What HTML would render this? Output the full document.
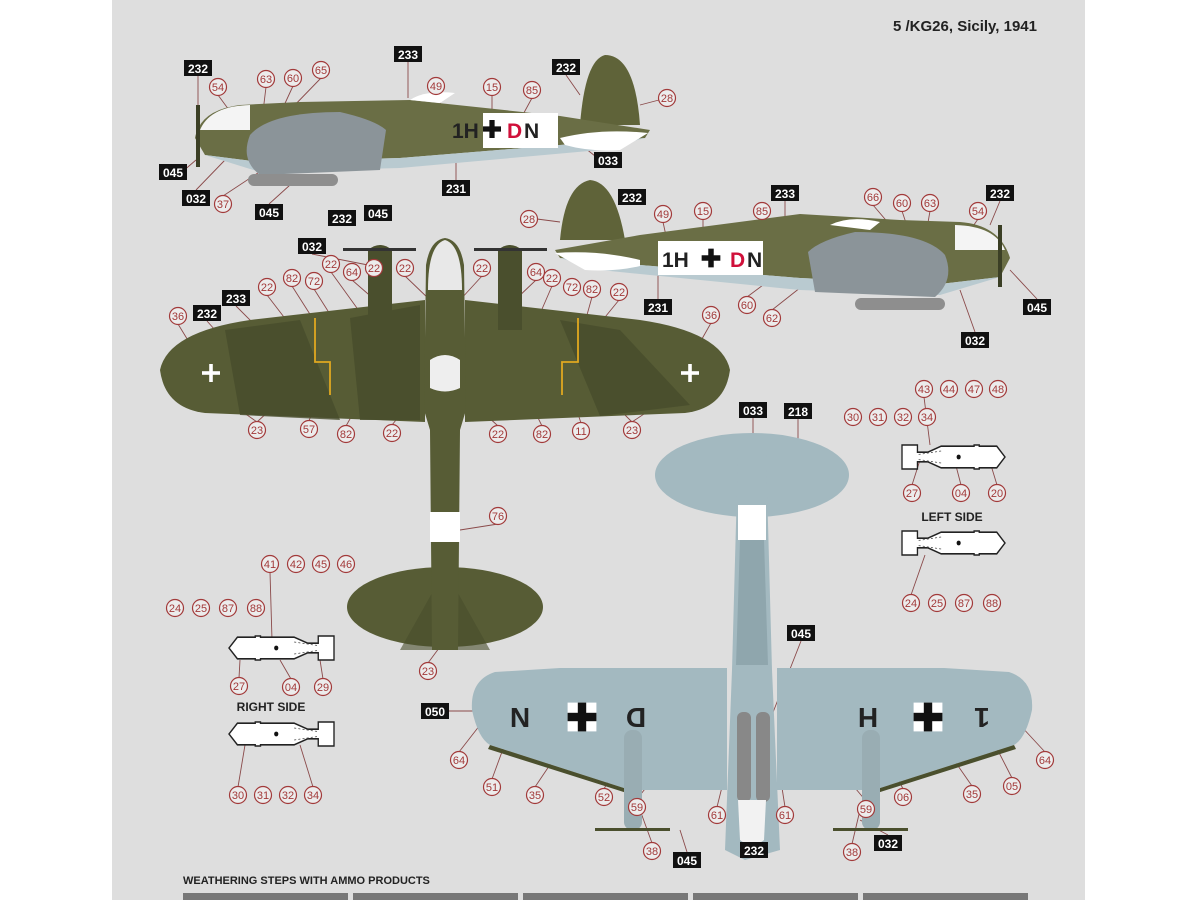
<!DOCTYPE html>
<html><head><meta charset="utf-8"><style>
html,body{margin:0;padding:0;background:#fff}
svg{display:block}
.c circle{fill:#ececec;stroke:#a23a3a;stroke-width:1.2}
.c text{fill:#a23a3a;font:11px "Liberation Sans",sans-serif;text-anchor:middle}
.b rect{fill:#111}
.bt{fill:#fff;font:bold 12px "Liberation Sans",sans-serif;text-anchor:middle}
.ln path{stroke:#8a4a4a;stroke-width:0.9;fill:none}
</style></head><body>
<svg width="1200" height="900" viewBox="0 0 1200 900" xmlns="http://www.w3.org/2000/svg">
<defs>
<g id="bk"><rect x="-12" y="-12" width="24" height="24" fill="#fff"/><rect x="-3.5" y="-12" width="7" height="24" fill="#111"/><rect x="-12" y="-3.5" width="24" height="7" fill="#111"/></g>
<g id="bomb"><path d="M0,10 L8,1 L25,1 L25,0 L30,0 L30,1 L62,1 L75,6 L85,6 L85,0 L100,0 L100,20 L85,20 L85,14 L75,14 L62,19 L30,19 L30,20 L25,20 L25,19 L8,19 Z" fill="#fff" stroke="#222" stroke-width="1.3"/><circle cx="45" cy="10" r="2" fill="#111"/><path d="M62,5 L85,8 M62,15 L85,12" stroke="#555" stroke-width="0.7" stroke-dasharray="2 2"/></g>
</defs>
<rect x="0" y="0" width="1200" height="900" fill="#fff"/>
<rect x="112" y="0" width="973" height="900" fill="#dedede"/>
<text x="965" y="31" font-family="Liberation Sans,sans-serif" font-weight="bold" font-size="15" fill="#222" text-anchor="middle">5 /KG26, Sicily, 1941</text>

<!-- leader lines -->
<g class="ln">
<path d="M218,95 L240,125 M266,87 L262,120 M293,86 L275,125 M321,78 L290,110 M436,94 L450,125 M492,95 L492,115 M532,98 L520,120 M659,100 L640,105 M223,196 L270,165 M198,76 L198,105 M408,62 L408,98 M566,75 L580,95 M600,160 L585,148 M182,172 L196,160 M196,190 L225,160 M269,204 L290,185 M456,180 L456,160"/>
<path d="M537,219 L560,222 M663,222 L668,245 M703,219 L703,245 M762,219 L740,250 M785,201 L785,218 M873,205 L890,225 M902,211 L910,235 M930,211 L925,240 M978,219 L960,245 M1000,201 L990,225 M747,297 L790,265 M772,310 L810,280 M658,299 L658,275 M1037,299 L1010,270 M975,332 L960,290"/>
<path d="M267,295 L340,390 M292,286 L320,330 M314,289 L340,330 M331,272 L380,340 M352,280 L375,300 M405,276 L430,300 M482,276 L460,300 M536,280 L515,300 M552,286 L520,360 M592,297 L580,340 M619,300 L570,360 M178,324 L200,360 M711,323 L690,360 M257,422 L240,410 M257,422 L270,410 M309,421 L320,390 M346,426 L400,330 M392,425 L420,390 M498,426 L470,400 M542,426 L500,340 M581,423 L570,390 M632,422 L620,410 M632,422 L650,410 M498,524 L460,530 M428,663 L445,640 M236,306 L260,330 M207,321 L215,330 M312,254 L368,265"/>
<path d="M270,572 L272,640 M239,678 L240,660 M291,679 L280,660 M323,679 L320,660 M238,787 L245,745 M313,787 L300,745 M924,397 L930,445 M912,485 L920,460 M961,485 L955,462 M997,485 L990,462 M911,595 L925,555"/>
<path d="M459,752 L480,725 M492,779 L510,730 M535,787 L570,735 M604,789 L630,740 M637,799 L660,770 M717,807 L725,775 M652,843 L640,810 M903,789 L880,740 M972,786 L940,740 M1012,778 L990,735 M1045,752 L1020,725 M866,801 L840,770 M785,807 L780,775 M852,844 L860,810 M753,418 L753,440 M798,419 L798,470 M801,641 L770,720 M449,711 L475,711 M888,835 L860,820 M687,852 L680,830"/>
</g>

<!-- side view 1 -->
<path d="M580,125 Q585,60 605,55 Q635,55 640,125 Z" fill="#5f6339"/>
<path d="M195,138 Q200,110 240,105 L300,102 L410,100 L560,116 L650,130 L645,138 L560,145 L400,158 L260,162 L205,155 Z" fill="#6a6e45"/>
<path d="M205,155 L260,162 L400,158 L560,145 L645,138 L600,150 L400,168 L260,172 Z" fill="#b9cad0"/>
<path d="M560,138 Q600,128 648,133 L620,150 Q590,152 565,145Z" fill="#fff"/>
<path d="M250,135 Q270,112 340,112 Q375,120 386,130 L380,170 L260,175 Q240,160 250,135Z" fill="#8b9499"/>
<rect x="248" y="174" width="90" height="12" rx="6" fill="#8e8e8e"/>
<path d="M410,100 Q425,90 455,93 L440,103Z" fill="#fff"/>
<path d="M200,130 Q210,106 250,105 L250,130Z" fill="#f4f4f4"/>
<rect x="196" y="105" width="4" height="62" fill="#3b3f25"/>
<rect x="483" y="113" width="75" height="35" fill="#fff"/>
<g transform="translate(492,129) scale(0.75)"><use href="#bk"/></g>
<text x="452" y="138" font-family="Liberation Sans,sans-serif" font-weight="bold" font-size="21" fill="#222">1H</text>
<text x="507" y="138" font-family="Liberation Sans,sans-serif" font-weight="bold" font-size="21" fill="#d0103a">D</text>
<text x="524" y="138" font-family="Liberation Sans,sans-serif" font-weight="bold" font-size="21" fill="#222">N</text>

<!-- side view 2 (mirrored) -->
<path d="M560,240 Q565,185 590,180 Q615,182 625,240 Z" fill="#5f6339"/>
<path d="M1010,258 Q1000,225 960,222 L900,220 L800,214 L640,235 L555,250 L560,258 L640,265 L800,278 L940,284 L1000,277 Z" fill="#6a6e45"/>
<path d="M1000,277 L940,284 L800,278 L640,265 L560,258 L600,270 L800,290 L940,295 Z" fill="#b9cad0"/>
<path d="M640,260 Q600,250 555,253 L585,270 Q615,272 640,266Z" fill="#fff"/>
<path d="M945,255 Q925,232 855,232 Q820,240 808,252 L815,292 L935,297 Q955,280 945,255Z" fill="#8b9499"/>
<rect x="855" y="298" width="90" height="12" rx="6" fill="#8e8e8e"/>
<path d="M830,225 Q850,215 880,222 L870,230Z" fill="#fff"/>
<path d="M1005,250 Q995,226 955,225 L955,250Z" fill="#f4f4f4"/>
<rect x="998" y="225" width="4" height="62" fill="#3b3f25"/>
<rect x="658" y="241" width="105" height="34" fill="#fff"/>
<g transform="translate(711,258) scale(0.78)"><use href="#bk"/></g>
<text x="662" y="267" font-family="Liberation Sans,sans-serif" font-weight="bold" font-size="21" fill="#222">1H</text>
<text x="730" y="267" font-family="Liberation Sans,sans-serif" font-weight="bold" font-size="21" fill="#d0103a">D</text>
<text x="747" y="267" font-family="Liberation Sans,sans-serif" font-weight="bold" font-size="21" fill="#222">N</text>

<!-- top view -->
<path d="M425,300 L250,320 Q168,332 160,370 Q165,408 205,413 L425,422 Z" fill="#575c35"/>
<path d="M465,300 L640,320 Q722,332 730,370 Q725,408 685,413 L465,422 Z" fill="#575c35"/>
<path d="M225,330 L300,320 L340,420 L240,415 Z M560,320 L620,330 L690,405 L600,416 Z M350,318 L420,305 L420,420 L360,420Z" fill="#474c2c" opacity="0.8"/>
<ellipse cx="445" cy="607" rx="98" ry="40" fill="#575c35"/>
<path d="M445,570 L400,650 L490,650Z" fill="#474c2c" opacity="0.6"/>
<path d="M426,265 Q430,240 445,238 Q460,240 464,265 L466,410 L460,430 L458,650 L432,650 L430,430 L424,410Z" fill="#575c35"/>
<path d="M428,290 Q428,245 445,240 Q462,245 462,290Z" fill="#e8e8e8"/>
<path d="M430,360 Q445,350 460,360 L460,388 Q445,395 430,388Z" fill="#eee"/>
<rect x="430" y="512" width="30" height="30" fill="#fff"/>
<path d="M368,250 Q380,240 392,250 L392,330 L368,330Z" fill="#4a4f2d"/>
<path d="M498,250 Q510,240 522,250 L522,330 L498,330Z" fill="#4a4f2d"/>
<rect x="343" y="248" width="73" height="3" fill="#333"/>
<rect x="474" y="248" width="73" height="3" fill="#333"/>
<path d="M315,318 L315,362 L330,362 L330,395 M578,318 L578,362 L562,362 L562,395" stroke="#e0a820" stroke-width="1.8" fill="none"/>
<g transform="translate(211,373) scale(0.6)"><rect x="-3" y="-15" width="6" height="30" fill="#fff"/><rect x="-15" y="-3" width="30" height="6" fill="#fff"/></g>
<g transform="translate(690,373) scale(0.6)"><rect x="-3" y="-15" width="6" height="30" fill="#fff"/><rect x="-15" y="-3" width="30" height="6" fill="#fff"/></g>

<!-- bottom view -->
<ellipse cx="752" cy="475" rx="97" ry="42" fill="#a3b9c0"/>
<path d="M738,450 L766,450 L772,670 L780,850 L745,860 L725,850 L732,670Z" fill="#a3b9c0"/>
<path d="M738,505 L766,505 L766,540 L738,540Z" fill="#fff"/>
<path d="M740,540 L764,540 L768,665 L736,665Z" fill="#8fa6ad"/>
<path d="M727,668 L560,668 L495,672 Q470,680 472,710 Q478,738 490,745 L630,790 L727,790Z" fill="#a3b9c0"/>
<path d="M777,668 L944,668 L1009,672 Q1034,680 1032,710 Q1026,738 1014,745 L874,790 L777,790Z" fill="#a3b9c0"/>
<path d="M490,745 L630,790 L630,794 L488,749Z M1014,745 L874,790 L874,794 L1016,749Z" fill="#4a4f2d"/>
<rect x="737" y="712" width="14" height="90" rx="6" fill="#888"/>
<rect x="756" y="712" width="14" height="90" rx="6" fill="#888"/>
<rect x="624" y="730" width="18" height="100" rx="8" fill="#99adb3"/>
<rect x="862" y="730" width="18" height="100" rx="8" fill="#99adb3"/>
<rect x="595" y="828" width="75" height="3" fill="#4a4f2d"/>
<rect x="833" y="828" width="75" height="3" fill="#4a4f2d"/>
<path d="M738,800 L766,800 L764,840 Q752,850 740,840Z" fill="#f2f2f2"/>
<g transform="translate(582,717)"><use href="#bk" transform="scale(1.2)"/></g>
<g transform="translate(928,717)"><use href="#bk" transform="scale(1.2)"/></g>
<text x="520" y="728" font-family="Liberation Sans,sans-serif" font-weight="bold" font-size="28" fill="#222" text-anchor="middle" transform="rotate(180 520 718)">N</text>
<text x="636" y="728" font-family="Liberation Sans,sans-serif" font-weight="bold" font-size="28" fill="#222" text-anchor="middle" transform="rotate(180 636 718)">D</text>
<text x="868" y="728" font-family="Liberation Sans,sans-serif" font-weight="bold" font-size="28" fill="#222" text-anchor="middle" transform="rotate(180 868 718)">H</text>
<text x="982" y="728" font-family="Liberation Sans,sans-serif" font-weight="bold" font-size="28" fill="#222" text-anchor="middle" transform="rotate(180 982 718)">1</text>

<!-- bombs -->
<use href="#bomb" transform="translate(229,636) scale(1.05,1.2)"/>
<use href="#bomb" transform="translate(229,722) scale(1.05,1.2)"/>
<use href="#bomb" transform="translate(1005,445) scale(-1.03,1.2)"/>
<use href="#bomb" transform="translate(1005,531) scale(-1.03,1.2)"/>
<text x="271" y="711" font-family="Liberation Sans,sans-serif" font-weight="bold" font-size="12" fill="#222" text-anchor="middle">RIGHT SIDE</text>
<text x="952" y="521" font-family="Liberation Sans,sans-serif" font-weight="bold" font-size="12" fill="#222" text-anchor="middle">LEFT SIDE</text>

<!-- number circles -->
<g class="c">
<g transform="translate(218,87)"><circle r="8.5"/><text y="4">54</text></g>
<g transform="translate(266,79)"><circle r="8.5"/><text y="4">63</text></g>
<g transform="translate(293,78)"><circle r="8.5"/><text y="4">60</text></g>
<g transform="translate(321,70)"><circle r="8.5"/><text y="4">65</text></g>
<g transform="translate(436,86)"><circle r="8.5"/><text y="4">49</text></g>
<g transform="translate(492,87)"><circle r="8.5"/><text y="4">15</text></g>
<g transform="translate(532,90)"><circle r="8.5"/><text y="4">85</text></g>
<g transform="translate(667,98)"><circle r="8.5"/><text y="4">28</text></g>
<g transform="translate(223,204)"><circle r="8.5"/><text y="4">37</text></g>
<g transform="translate(529,219)"><circle r="8.5"/><text y="4">28</text></g>
<g transform="translate(663,214)"><circle r="8.5"/><text y="4">49</text></g>
<g transform="translate(703,211)"><circle r="8.5"/><text y="4">15</text></g>
<g transform="translate(762,211)"><circle r="8.5"/><text y="4">85</text></g>
<g transform="translate(873,197)"><circle r="8.5"/><text y="4">66</text></g>
<g transform="translate(902,203)"><circle r="8.5"/><text y="4">60</text></g>
<g transform="translate(930,203)"><circle r="8.5"/><text y="4">63</text></g>
<g transform="translate(978,211)"><circle r="8.5"/><text y="4">54</text></g>
<g transform="translate(747,305)"><circle r="8.5"/><text y="4">60</text></g>
<g transform="translate(772,318)"><circle r="8.5"/><text y="4">62</text></g>
<g transform="translate(267,287)"><circle r="8.5"/><text y="4">22</text></g>
<g transform="translate(292,278)"><circle r="8.5"/><text y="4">82</text></g>
<g transform="translate(314,281)"><circle r="8.5"/><text y="4">72</text></g>
<g transform="translate(331,264)"><circle r="8.5"/><text y="4">22</text></g>
<g transform="translate(352,272)"><circle r="8.5"/><text y="4">64</text></g>
<g transform="translate(374,268)"><circle r="8.5"/><text y="4">22</text></g>
<g transform="translate(405,268)"><circle r="8.5"/><text y="4">22</text></g>
<g transform="translate(482,268)"><circle r="8.5"/><text y="4">22</text></g>
<g transform="translate(536,272)"><circle r="8.5"/><text y="4">64</text></g>
<g transform="translate(552,278)"><circle r="8.5"/><text y="4">22</text></g>
<g transform="translate(572,287)"><circle r="8.5"/><text y="4">72</text></g>
<g transform="translate(592,289)"><circle r="8.5"/><text y="4">82</text></g>
<g transform="translate(619,292)"><circle r="8.5"/><text y="4">22</text></g>
<g transform="translate(178,316)"><circle r="8.5"/><text y="4">36</text></g>
<g transform="translate(711,315)"><circle r="8.5"/><text y="4">36</text></g>
<g transform="translate(257,430)"><circle r="8.5"/><text y="4">23</text></g>
<g transform="translate(309,429)"><circle r="8.5"/><text y="4">57</text></g>
<g transform="translate(346,434)"><circle r="8.5"/><text y="4">82</text></g>
<g transform="translate(392,433)"><circle r="8.5"/><text y="4">22</text></g>
<g transform="translate(498,434)"><circle r="8.5"/><text y="4">22</text></g>
<g transform="translate(542,434)"><circle r="8.5"/><text y="4">82</text></g>
<g transform="translate(581,431)"><circle r="8.5"/><text y="4">11</text></g>
<g transform="translate(632,430)"><circle r="8.5"/><text y="4">23</text></g>
<g transform="translate(498,516)"><circle r="8.5"/><text y="4">76</text></g>
<g transform="translate(428,671)"><circle r="8.5"/><text y="4">23</text></g>
<g transform="translate(270,564)"><circle r="8.5"/><text y="4">41</text></g>
<g transform="translate(296,564)"><circle r="8.5"/><text y="4">42</text></g>
<g transform="translate(321,564)"><circle r="8.5"/><text y="4">45</text></g>
<g transform="translate(346,564)"><circle r="8.5"/><text y="4">46</text></g>
<g transform="translate(175,608)"><circle r="8.5"/><text y="4">24</text></g>
<g transform="translate(201,608)"><circle r="8.5"/><text y="4">25</text></g>
<g transform="translate(228,608)"><circle r="8.5"/><text y="4">87</text></g>
<g transform="translate(256,608)"><circle r="8.5"/><text y="4">88</text></g>
<g transform="translate(239,686)"><circle r="8.5"/><text y="4">27</text></g>
<g transform="translate(291,687)"><circle r="8.5"/><text y="4">04</text></g>
<g transform="translate(323,687)"><circle r="8.5"/><text y="4">29</text></g>
<g transform="translate(238,795)"><circle r="8.5"/><text y="4">30</text></g>
<g transform="translate(263,795)"><circle r="8.5"/><text y="4">31</text></g>
<g transform="translate(288,795)"><circle r="8.5"/><text y="4">32</text></g>
<g transform="translate(313,795)"><circle r="8.5"/><text y="4">34</text></g>
<g transform="translate(853,417)"><circle r="8.5"/><text y="4">30</text></g>
<g transform="translate(878,417)"><circle r="8.5"/><text y="4">31</text></g>
<g transform="translate(903,417)"><circle r="8.5"/><text y="4">32</text></g>
<g transform="translate(927,417)"><circle r="8.5"/><text y="4">34</text></g>
<g transform="translate(924,389)"><circle r="8.5"/><text y="4">43</text></g>
<g transform="translate(949,389)"><circle r="8.5"/><text y="4">44</text></g>
<g transform="translate(974,389)"><circle r="8.5"/><text y="4">47</text></g>
<g transform="translate(998,389)"><circle r="8.5"/><text y="4">48</text></g>
<g transform="translate(912,493)"><circle r="8.5"/><text y="4">27</text></g>
<g transform="translate(961,493)"><circle r="8.5"/><text y="4">04</text></g>
<g transform="translate(997,493)"><circle r="8.5"/><text y="4">20</text></g>
<g transform="translate(911,603)"><circle r="8.5"/><text y="4">24</text></g>
<g transform="translate(937,603)"><circle r="8.5"/><text y="4">25</text></g>
<g transform="translate(964,603)"><circle r="8.5"/><text y="4">87</text></g>
<g transform="translate(992,603)"><circle r="8.5"/><text y="4">88</text></g>
<g transform="translate(459,760)"><circle r="8.5"/><text y="4">64</text></g>
<g transform="translate(492,787)"><circle r="8.5"/><text y="4">51</text></g>
<g transform="translate(535,795)"><circle r="8.5"/><text y="4">35</text></g>
<g transform="translate(604,797)"><circle r="8.5"/><text y="4">52</text></g>
<g transform="translate(637,807)"><circle r="8.5"/><text y="4">59</text></g>
<g transform="translate(717,815)"><circle r="8.5"/><text y="4">61</text></g>
<g transform="translate(652,851)"><circle r="8.5"/><text y="4">38</text></g>
<g transform="translate(903,797)"><circle r="8.5"/><text y="4">06</text></g>
<g transform="translate(972,794)"><circle r="8.5"/><text y="4">35</text></g>
<g transform="translate(1012,786)"><circle r="8.5"/><text y="4">05</text></g>
<g transform="translate(1045,760)"><circle r="8.5"/><text y="4">64</text></g>
<g transform="translate(866,809)"><circle r="8.5"/><text y="4">59</text></g>
<g transform="translate(785,815)"><circle r="8.5"/><text y="4">61</text></g>
<g transform="translate(852,852)"><circle r="8.5"/><text y="4">38</text></g>
</g>

<!-- black boxes -->
<g class="b">
<g transform="translate(198,68)"><rect x="-14" y="-8" width="28" height="16"/><text class="bt" y="5">232</text></g>
<g transform="translate(408,54)"><rect x="-14" y="-8" width="28" height="16"/><text class="bt" y="5">233</text></g>
<g transform="translate(566,67)"><rect x="-14" y="-8" width="28" height="16"/><text class="bt" y="5">232</text></g>
<g transform="translate(608,160)"><rect x="-14" y="-8" width="28" height="16"/><text class="bt" y="5">033</text></g>
<g transform="translate(173,172)"><rect x="-14" y="-8" width="28" height="16"/><text class="bt" y="5">045</text></g>
<g transform="translate(196,198)"><rect x="-14" y="-8" width="28" height="16"/><text class="bt" y="5">032</text></g>
<g transform="translate(456,188)"><rect x="-14" y="-8" width="28" height="16"/><text class="bt" y="5">231</text></g>
<g transform="translate(269,212)"><rect x="-14" y="-8" width="28" height="16"/><text class="bt" y="5">045</text></g>
<g transform="translate(342,218)"><rect x="-14" y="-8" width="28" height="16"/><text class="bt" y="5">232</text></g>
<g transform="translate(378,213)"><rect x="-14" y="-8" width="28" height="16"/><text class="bt" y="5">045</text></g>
<g transform="translate(312,246)"><rect x="-14" y="-8" width="28" height="16"/><text class="bt" y="5">032</text></g>
<g transform="translate(236,298)"><rect x="-14" y="-8" width="28" height="16"/><text class="bt" y="5">233</text></g>
<g transform="translate(207,313)"><rect x="-14" y="-8" width="28" height="16"/><text class="bt" y="5">232</text></g>
<g transform="translate(632,197)"><rect x="-14" y="-8" width="28" height="16"/><text class="bt" y="5">232</text></g>
<g transform="translate(785,193)"><rect x="-14" y="-8" width="28" height="16"/><text class="bt" y="5">233</text></g>
<g transform="translate(1000,193)"><rect x="-14" y="-8" width="28" height="16"/><text class="bt" y="5">232</text></g>
<g transform="translate(658,307)"><rect x="-14" y="-8" width="28" height="16"/><text class="bt" y="5">231</text></g>
<g transform="translate(1037,307)"><rect x="-14" y="-8" width="28" height="16"/><text class="bt" y="5">045</text></g>
<g transform="translate(975,340)"><rect x="-14" y="-8" width="28" height="16"/><text class="bt" y="5">032</text></g>
<g transform="translate(753,410)"><rect x="-14" y="-8" width="28" height="16"/><text class="bt" y="5">033</text></g>
<g transform="translate(798,411)"><rect x="-14" y="-8" width="28" height="16"/><text class="bt" y="5">218</text></g>
<g transform="translate(801,633)"><rect x="-14" y="-8" width="28" height="16"/><text class="bt" y="5">045</text></g>
<g transform="translate(435,711)"><rect x="-14" y="-8" width="28" height="16"/><text class="bt" y="5">050</text></g>
<g transform="translate(687,860)"><rect x="-14" y="-8" width="28" height="16"/><text class="bt" y="5">045</text></g>
<g transform="translate(754,850)"><rect x="-14" y="-8" width="28" height="16"/><text class="bt" y="5">232</text></g>
<g transform="translate(888,843)"><rect x="-14" y="-8" width="28" height="16"/><text class="bt" y="5">032</text></g>
</g>

<!-- footer -->
<text x="183" y="884" font-family="Liberation Sans,sans-serif" font-weight="bold" font-size="11" fill="#222">WEATHERING STEPS WITH AMMO PRODUCTS</text>
<rect x="183" y="893" width="165" height="7" fill="#777"/>
<rect x="353" y="893" width="165" height="7" fill="#777"/>
<rect x="523" y="893" width="165" height="7" fill="#777"/>
<rect x="693" y="893" width="165" height="7" fill="#777"/>
<rect x="863" y="893" width="165" height="7" fill="#777"/>
</svg>
</body></html>
